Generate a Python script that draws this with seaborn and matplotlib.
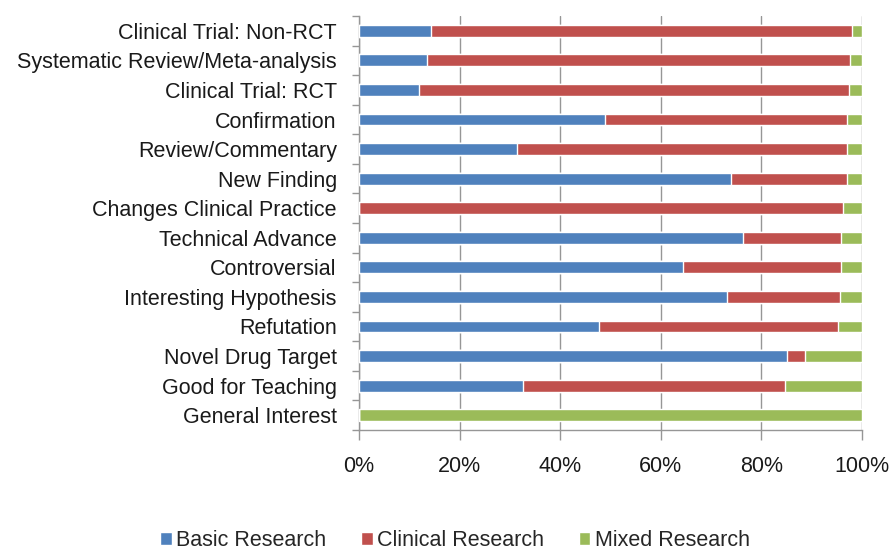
import matplotlib
matplotlib.use("Agg")
import matplotlib.pyplot as plt
import seaborn as sns
import pandas as pd
import numpy as np
from matplotlib.patches import Patch
from matplotlib.ticker import MultipleLocator, FixedLocator, PercentFormatter

categories = ["Clinical Trial: Non-RCT", "Systematic Review/Meta-analysis", "Clinical Trial: RCT",
              "Confirmation", "Review/Commentary", "New Finding", "Changes Clinical Practice",
              "Technical Advance", "Controversial", "Interesting Hypothesis", "Refutation",
              "Novel Drug Target", "Good for Teaching", "General Interest"]
basic = [14.3, 13.5, 11.9, 49.0, 31.5, 73.9, 0.0, 76.4, 64.5, 73.1, 47.7, 85.0, 32.6, 0.0]
clinical = [83.7, 84.2, 85.5, 48.0, 65.5, 23.1, 96.3, 19.5, 31.4, 22.5, 47.5, 3.7, 52.1, 0.0]
mixed = [2.0, 2.3, 2.6, 3.0, 3.0, 3.0, 3.7, 4.1, 4.1, 4.4, 4.8, 11.3, 15.3, 100.0]
series = ["Basic Research", "Clinical Research", "Mixed Research"]
colors = ["#4F81BD", "#C0504D", "#9BBB59"]

sns.set_style("white")
plt.rcParams["font.family"] = ["Liberation Sans", "DejaVu Sans"]

df = pd.DataFrame({"cat": categories, "basic": basic, "clinical": clinical, "mixed": mixed})
df["c1"] = df["basic"]
df["c2"] = df["basic"] + df["clinical"]
df["c3"] = df["c2"] + df["mixed"]

fig = plt.figure(figsize=(8.93, 5.52), dpi=100)
ax = fig.add_axes([359/893, 1 - 430/552, (862-359)/893, (430-16)/552])

for col, color in zip(["c3", "c2", "c1"], colors[::-1]):
    sns.barplot(data=df, y="cat", x=col, color=color, orient="h", width=0.4,
                saturation=1, ax=ax, zorder=3)

ax.set_xlim(0, 100)
ax.set_ylim(len(categories) - 0.5, -0.5)
ax.set_xlabel("")
ax.set_ylabel("")
ax.xaxis.set_major_locator(MultipleLocator(20))
ax.xaxis.set_major_formatter(PercentFormatter(decimals=0))
ax.grid(axis="x", color="#969696", linewidth=1.0, zorder=0)
ax.set_axisbelow(True)
for s in ["top", "right"]:
    ax.spines[s].set_visible(False)
for s in ["left", "bottom"]:
    ax.spines[s].set_color("#969696")
    ax.spines[s].set_linewidth(1.0)

ax.yaxis.set_minor_locator(FixedLocator(np.arange(-0.5, len(categories), 1)))
ax.tick_params(axis="y", which="major", length=0, pad=16, labelsize=15.5, colors="#1a1a1a")
ax.tick_params(axis="y", which="minor", left=True, length=5, width=1.0, color="#969696")
ax.tick_params(axis="x", which="major", bottom=True, length=7, width=1.0, color="#969696",
               pad=12, labelsize=15.5, labelcolor="#1a1a1a")

handles = [Patch(facecolor=c, label=s) for c, s in zip(colors, series)]
fig.legend(handles=handles, loc="center", bbox_to_anchor=(455/893, 1 - 541/552), ncol=3,
           frameon=False, fontsize=15.5, handlelength=0.55, handleheight=0.55,
           handletextpad=0.2, columnspacing=1.6, borderpad=0)

fig.savefig("out.png", dpi=100)
